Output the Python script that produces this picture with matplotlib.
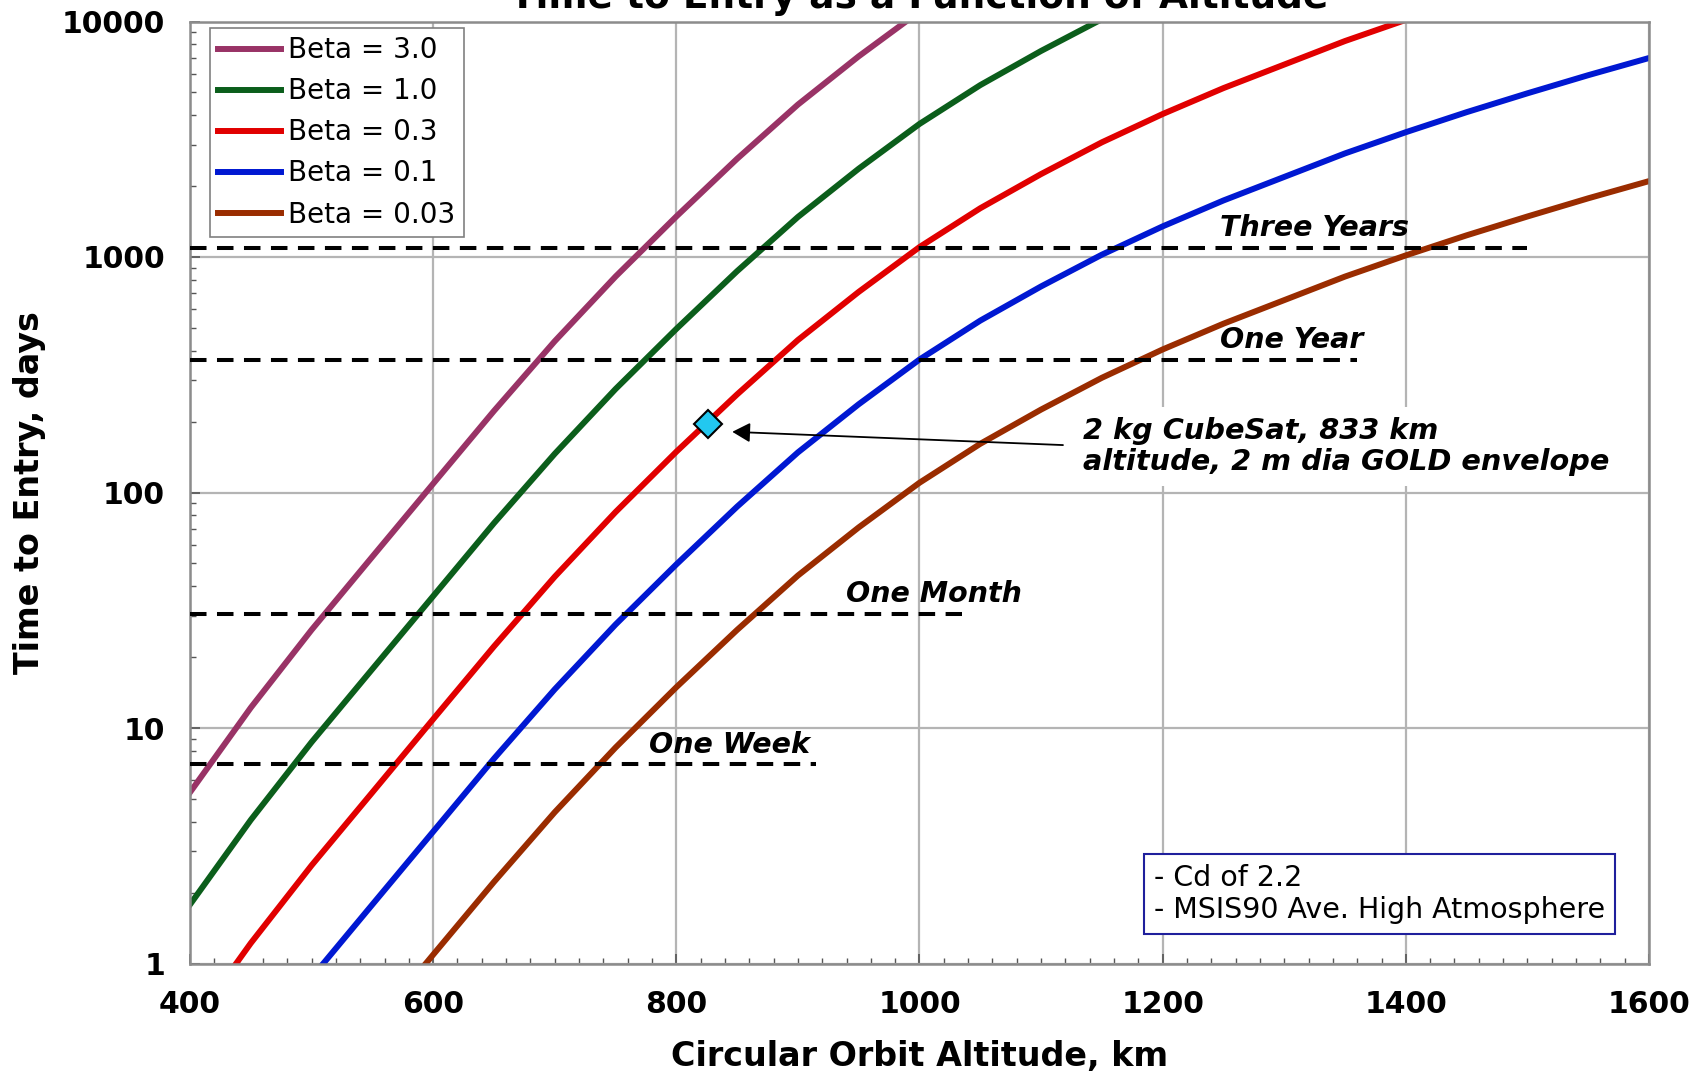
import numpy as np
import matplotlib.pyplot as plt
from matplotlib.ticker import MultipleLocator, LogLocator, NullFormatter, FuncFormatter

# time to entry (days), per ballistic coefficient
alt_b30 = [400, 450, 500, 550, 600, 650, 700, 750, 800, 850, 900, 950, 1000]
days_b30 = [5.33, 12.2, 26.1, 53.4, 109, 222, 439, 826, 1486, 2613, 4438, 7115, 11020]

alt_b10 = [400, 450, 500, 550, 600, 650, 700, 750, 800, 850, 900, 950, 1000,
           1050, 1100, 1150]
days_b10 = [1.78, 4.07, 8.71, 17.8, 36.3, 74.1, 146, 275, 495, 871, 1479, 2371, 3673,
            5370, 7499, 10230]

alt_b03 = [400, 450, 500, 550, 600, 650, 700, 750, 800, 850, 900, 950, 1000,
           1050, 1100, 1150, 1200, 1250, 1300, 1350, 1400]
days_b03 = [0.533, 1.22, 2.61, 5.33, 10.9, 22.2, 43.9, 82.6, 149, 261, 444, 711, 1102,
            1611, 2250, 3069, 4047, 5214, 6564, 8263, 10160]

alt_b01 = [450, 500, 550, 600, 650, 700, 750, 800, 850, 900, 950, 1000, 1050,
           1100, 1150, 1200, 1250, 1300, 1350, 1400, 1450, 1500, 1550, 1600]
days_b01 = [0.407, 0.871, 1.78, 3.63, 7.41, 14.6, 27.5, 49.5, 87.1, 148, 237, 367, 537,
            750, 1023, 1349, 1738, 2188, 2754, 3388, 4121, 4955, 5916, 6998]

alt_b003 = [550, 600, 650, 700, 750, 800, 850, 900, 950, 1000, 1050, 1100, 1150,
            1200, 1250, 1300, 1350, 1400, 1450, 1500, 1550, 1600]
days_b003 = [0.533, 1.09, 2.22, 4.39, 8.26, 14.9, 26.1, 44.4, 71.1, 110, 161, 225, 307,
             405, 521, 656, 826, 1016, 1236, 1486, 1775, 2100]

series = [
    (alt_b30, days_b30, 'Beta = 3.0', '#993366'),
    (alt_b10, days_b10, 'Beta = 1.0', '#0b5e1b'),
    (alt_b03, days_b03, 'Beta = 0.3', '#e10000'),
    (alt_b01, days_b01, 'Beta = 0.1', '#0018d2'),
    (alt_b003, days_b003, 'Beta = 0.03', '#9a2c00'),
]

# reference durations
ref_labels = ['Three Years', 'One Year', 'One Month', 'One Week']
ref_days = [1095, 365, 30.4, 7]
ref_end = [1500, 1360, 1035, 915]
ref_label_x = [1325, 1306, 1012, 844]

# cubesat point
sat_alt = 826
sat_days = 196

fig = plt.figure(figsize=(17.07, 10.75), dpi=100)
ax = fig.add_axes([190 / 1707, 1 - 963.5 / 1075, 1459 / 1707, 942 / 1075])

for x, y, lbl, c in series:
    ax.plot(x, y, color=c, lw=4.3, label=lbl, zorder=2)

for d, e, lbl, lx in zip(ref_days, ref_end, ref_labels, ref_label_x):
    ax.plot([400, e], [d, d], color='k', lw=2.9, dashes=(4.1, 2.6), zorder=4)
    ax.annotate(lbl, xy=(lx, d), xytext=(0, 8.5), textcoords='offset points',
                ha='center', va='baseline', fontsize=20.5, fontweight='bold',
                fontstyle='italic', zorder=5)

ax.plot(sat_alt, sat_days, marker='D', ms=14.5, mfc='#22c8f0', mec='k', mew=1.5,
        zorder=6)
ax.annotate('', xy=(846, 181), xytext=(1118, 159),
            arrowprops=dict(arrowstyle='-|>,head_length=0.4,head_width=0.22',
                            color='k', lw=1.3, mutation_scale=27,
                            shrinkA=0, shrinkB=0), zorder=6)
ax.text(0.612, 0.549, '2 kg CubeSat, 833 km\naltitude, 2 m dia GOLD envelope',
        transform=ax.transAxes, ha='left', va='center', fontsize=20.7,
        fontweight='bold', fontstyle='italic', linespacing=1.15, zorder=1.5,
        bbox=dict(fc='white', ec='none', pad=7))

ax.text(0.661, 0.0738, '- Cd of 2.2\n- MSIS90 Ave. High Atmosphere',
        transform=ax.transAxes, ha='left', va='center', fontsize=20.5,
        linespacing=1.15, zorder=5,
        bbox=dict(boxstyle='square,pad=0.35', fc='white', ec='#1f1f9c', lw=1.5))

ax.set_yscale('log')
ax.set_xlim(400, 1600)
ax.set_ylim(1, 10000)
ax.set_xticks(range(400, 1601, 200))
ax.xaxis.set_minor_locator(MultipleLocator(20))
ax.yaxis.set_minor_locator(LogLocator(base=10, subs=np.arange(2, 10)))
ax.yaxis.set_minor_formatter(NullFormatter())
ax.yaxis.set_major_formatter(FuncFormatter(lambda v, p: f'{v:g}'))

ax.tick_params(which='both', direction='in', color='#555555')
ax.tick_params(which='major', length=7, width=1.2, labelsize=21.5)
ax.tick_params(which='minor', length=4.5, width=1.0)
ax.tick_params(axis='x', pad=19)
ax.tick_params(axis='y', pad=18)
for t in ax.get_xticklabels() + ax.get_yticklabels():
    t.set_fontweight('bold')

ax.set_axisbelow(True)
ax.grid(which='major', color='#b4b4b4', lw=1.6)
for s in ax.spines.values():
    s.set_color('#8c8c8c')
    s.set_linewidth(1.8)

leg = ax.legend(loc='upper left', bbox_to_anchor=(0.0137, 0.9931), fontsize=20,
                fancybox=False, edgecolor='#808080', framealpha=1, borderpad=0.3,
                labelspacing=0.47, handlelength=2.26, handletextpad=0.25,
                borderaxespad=0)
leg.get_frame().set_linewidth(1.2)

ax.set_xlabel('Circular Orbit Altitude, km', fontsize=24, fontweight='bold')
ax.xaxis.set_label_coords(0.5, -0.081)
ax.set_ylabel('Time to Entry, days', fontsize=24, fontweight='bold')
ax.yaxis.set_label_coords(-0.0986, 0.5)

# title sits partly above the top edge, as in the original
fig.text(919.5 / 1707, 1 - 8 / 1075, 'Time to Entry as a Function of Altitude',
         ha='center', va='baseline', fontsize=27, fontweight='bold')

fig.savefig('out.png', dpi=100)
